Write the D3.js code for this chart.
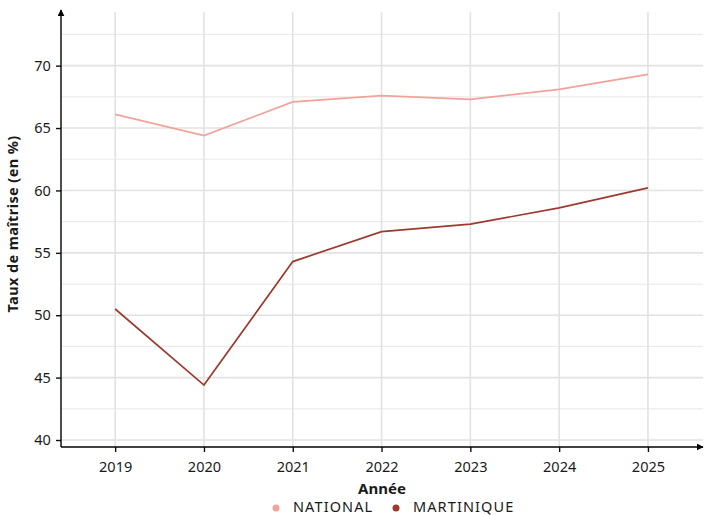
<!DOCTYPE html>
<html>
<head>
<meta charset="utf-8">
<script src="https://cdn.jsdelivr.net/npm/d3@7"></script>
<style>
  body { margin: 0; background: #fff; }
  text { font-family: "Noto Sans", "DejaVu Sans", sans-serif; fill: #1a1a1a; }
</style>
</head>
<body>
<svg width="705" height="515"></svg>
<script>
// data
var years = [2019, 2020, 2021, 2022, 2023, 2024, 2025];
var national = [66.1, 64.4, 67.1, 67.6, 67.3, 68.1, 69.3];
var martinique = [50.5, 44.4, 54.3, 56.7, 57.3, 58.6, 60.2];
var yTicks = [40, 45, 50, 55, 60, 65, 70];
var yMinor = [42.5, 47.5, 52.5, 57.5, 62.5, 67.5, 72.5];
var seriesNames = ["NATIONAL", "MARTINIQUE"];
var seriesColors = ["#f2a29b", "#9c3a2e"];

var svg = d3.select("svg");
var pLeft = 61, pRight = 703, pTop = 12, pBottom = 447;

var x = d3.scaleLinear().domain([2018.39, 2025.62]).range([pLeft, pRight]);
var y = d3.scaleLinear().domain([39.44, 74.3]).range([pBottom, pTop]);

// grid
var grid = svg.append("g");
grid.selectAll(".hmin").data(yMinor).enter().append("line")
    .attr("x1", pLeft).attr("x2", pRight)
    .attr("y1", function (d) { return y(d); }).attr("y2", function (d) { return y(d); })
    .attr("stroke", "#ebebeb").attr("stroke-width", 1.2);
grid.selectAll(".hmaj").data(yTicks).enter().append("line")
    .attr("x1", pLeft).attr("x2", pRight)
    .attr("y1", function (d) { return y(d); }).attr("y2", function (d) { return y(d); })
    .attr("stroke", "#e2e2e2").attr("stroke-width", 1.6);
grid.selectAll(".v").data(years).enter().append("line")
    .attr("y1", pTop).attr("y2", pBottom)
    .attr("x1", function (d) { return x(d); }).attr("x2", function (d) { return x(d); })
    .attr("stroke", "#e2e2e2").attr("stroke-width", 1.6);

// lines
var line = d3.line()
    .x(function (d, i) { return x(years[i]); })
    .y(function (d) { return y(d); });

[national, martinique].forEach(function (s, k) {
    svg.append("path")
        .datum(s)
        .attr("d", line)
        .attr("fill", "none")
        .attr("stroke", seriesColors[k])
        .attr("stroke-width", 1.7);
});

// axes
var xAxis = svg.append("g").attr("transform", "translate(0," + pBottom + ")")
    .call(d3.axisBottom(x).tickValues(years).tickFormat(d3.format("d")).tickSize(5).tickSizeOuter(0));
var yAxis = svg.append("g").attr("transform", "translate(" + pLeft + ",0)")
    .call(d3.axisLeft(y).tickValues(yTicks).tickSize(5).tickSizeOuter(0));

[xAxis, yAxis].forEach(function (a) {
    a.select(".domain").remove();
    a.selectAll(".tick line").attr("stroke", "#111").attr("stroke-width", 1.4);
    a.selectAll("text").style("font-size", "14.5px").attr("fill", "#1a1a1a");
});
xAxis.selectAll("text").attr("dy", "1.15em");
yAxis.selectAll("text").attr("dx", "-0.15em");

// axis lines with arrows
svg.append("defs").append("marker")
    .attr("id", "arrow").attr("viewBox", "0 0 10 10")
    .attr("refX", 9).attr("refY", 5)
    .attr("markerWidth", 7).attr("markerHeight", 7)
    .attr("markerUnits", "userSpaceOnUse")
    .attr("orient", "auto")
    .append("path").attr("d", "M0,0L10,5L0,10z").attr("fill", "#000");

svg.append("line").attr("x1", pLeft).attr("x2", pRight)
    .attr("y1", pBottom).attr("y2", pBottom)
    .attr("stroke", "#000").attr("stroke-width", 1.4).attr("marker-end", "url(#arrow)");
svg.append("line").attr("x1", pLeft).attr("x2", pLeft)
    .attr("y1", pBottom).attr("y2", pTop - 2)
    .attr("stroke", "#000").attr("stroke-width", 1.4).attr("marker-end", "url(#arrow)");

// titles
svg.append("text").attr("x", 382).attr("y", 494)
    .attr("text-anchor", "middle").style("font-size", "15px").style("font-weight", "bold")
    .text("Année");
svg.append("text").attr("transform", "translate(18,224) rotate(-90)")
    .attr("text-anchor", "middle").style("font-size", "14.5px").style("font-weight", "bold")
    .style("letter-spacing", "0.4px")
    .text("Taux de maîtrise (en %)");

// legend
var legendX = [276, 396];
var legend = svg.append("g");
seriesNames.forEach(function (n, k) {
    legend.append("circle").attr("cx", legendX[k]).attr("cy", 508).attr("r", 3.5)
        .attr("fill", seriesColors[k]);
    legend.append("text").attr("x", legendX[k] + 17).attr("y", 512)
        .style("font-size", "14.5px").style("letter-spacing", "1.1px").text(n);
});
</script>
</body>
</html>
